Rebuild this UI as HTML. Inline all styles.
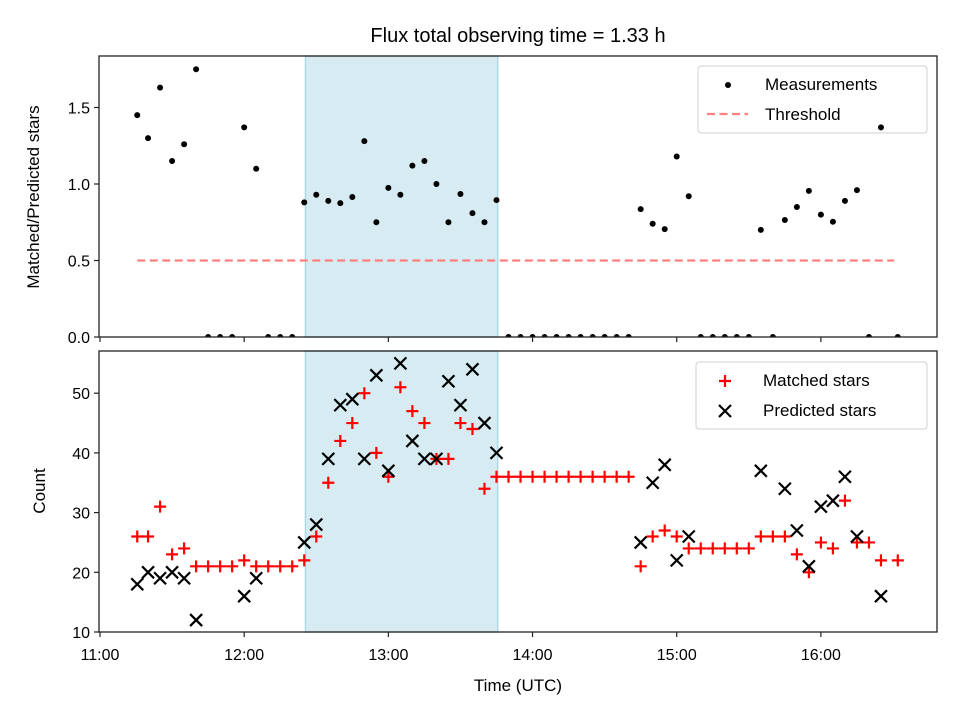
<!DOCTYPE html>
<html><head><meta charset="utf-8"><style>
html,body{margin:0;padding:0;background:#fff}
svg{display:block;font-family:"Liberation Sans","DejaVu Sans",sans-serif}
</style></head><body>
<svg id="chart" width="960" height="720" viewBox="0 0 960 720" xmlns="http://www.w3.org/2000/svg">
<defs>
<clipPath id="clipTop"><rect x="99" y="56" width="838" height="281"/></clipPath>
<clipPath id="clipBot"><rect x="99" y="351" width="838" height="281"/></clipPath>
</defs>
</svg>
<script>
const times = [15.5,20,25,30,35,40,45,50,55,60,65,70,75,80,85,90,95,100,105,110,115,120,125,130,135,140,145,150,155,160,165,170,175,180,185,190,195,200,205,210,215,220,225,230,235,240,245,250,255,260,265,270,275,280,285,290,295,300,305,310,315,320,325,332];
const ratio = [1.45,1.30,1.63,1.15,1.26,1.75,0,0,0,1.37,1.10,0,0,0,0.88,0.93,0.89,0.875,0.915,1.28,0.75,0.975,0.93,1.12,1.15,1.00,0.75,0.935,0.81,0.75,0.895,0,0,0,0,0,0,0,0,0,0,0,0.836,0.74,0.705,1.18,0.92,0,0,0,0,0,0.70,0,0.765,0.85,0.955,0.80,0.753,0.89,0.96,0,1.37,0];
const matched = [26,26,31,23,24,21,21,21,21,22,21,21,21,21,22,26,35,42,45,50,40,36,51,47,45,39,39,45,44,34,36,36,36,36,36,36,36,36,36,36,36,36,21,26,27,26,24,24,24,24,24,24,26,26,26,23,20,25,24,32,25,25,22,22];
const predicted = [18,20,19,20,19,12,null,null,null,16,19,null,null,null,25,28,39,48,49,39,53,37,55,42,39,39,52,48,54,45,40,null,null,null,null,null,null,null,null,null,null,null,25,35,38,22,26,null,null,null,null,null,37,null,34,27,21,31,32,36,26,null,16,null];
const threshold = 0.5;
const shadeSpan = [85.5, 165.5];
const xTickLabels = ["11:00","12:00","13:00","14:00","15:00","16:00"];
const xTickValues = [0,60,120,180,240,300];
const topTicks = [0.0,0.5,1.0,1.5];
const botTicks = [10,20,30,40,50];

const NS="http://www.w3.org/2000/svg";
const svg=document.getElementById('chart');
function mk(tag,attrs,parent){const e=document.createElementNS(NS,tag);for(const k in attrs)e.setAttribute(k,attrs[k]);(parent||svg).appendChild(e);return e;}
const L=99,R=937;
const xS=t=>100+t*2.403;
const T={top:56,bot:337};
const yT=v=>T.bot-v*153;
const B={top:351,bot:632};
const yB=v=>632-(v-10)*5.97;

let t=mk('text',{x:518,y:42,'font-size':'20','text-anchor':'middle',fill:'#000'});
t.textContent='Flux total observing time = 1.33 h';



function panel(P,yf,ticks,fmt,name){
  const g=mk('g',{});
  
  
  const sh=mk('rect',{x:xS(shadeSpan[0]),y:P.top,width:xS(shadeSpan[1])-xS(shadeSpan[0]),height:P.bot-P.top,fill:'#add8e6','fill-opacity':0.5,stroke:'#add8e6','stroke-width':1.5},g);
  
  
  ticks.forEach(v=>{
    const y=yf(v);
    mk('line',{x1:L-5,x2:L,y1:y,y2:y,stroke:'#222','stroke-width':1.2},g);
    const tx=mk('text',{x:L-9,y:y+6,'font-size':'16','text-anchor':'end',fill:'#000'},g);
    tx.textContent=fmt(v);
    
    
  });
  xTickValues.forEach(v=>{mk('line',{x1:xS(v),x2:xS(v),y1:P.bot,y2:P.bot+5,stroke:'#222','stroke-width':1.2},g);});
  return g;
}
const gTop=panel(T,yT,topTicks,v=>v.toFixed(1),'ratio-panel');
const gBot=panel(B,yB,botTicks,v=>String(v),'count-panel');

const lg1=mk('g',{});


mk('rect',{x:698,y:66,width:229,height:67,rx:3,fill:'#fff','fill-opacity':0.8,stroke:'#d0d0d0','stroke-width':1},lg1);
mk('circle',{cx:728,cy:85,r:3,fill:'#000'},lg1);
let e1=mk('text',{x:765,y:90,'font-size':'17',fill:'#000'},lg1);e1.textContent='Measurements';


mk('line',{x1:707,x2:748,y1:114,y2:114,stroke:'#ff7f7f','stroke-width':2.2,'stroke-dasharray':'8,4.5'},lg1);
let e2=mk('text',{x:765,y:120,'font-size':'17',fill:'#000'},lg1);e2.textContent='Threshold';



const lg2=mk('g',{});


mk('rect',{x:696,y:362,width:231,height:67,rx:3,fill:'#fff','fill-opacity':0.8,stroke:'#d0d0d0','stroke-width':1},lg2);
mk('path',{d:'M719,381H731M725,375V387',stroke:'#ff0000','stroke-width':2.2},lg2);
let e3=mk('text',{x:763,y:386,'font-size':'17',fill:'#000'},lg2);e3.textContent='Matched stars';


mk('path',{d:'M719,405L731,417M719,417L731,405',stroke:'#000','stroke-width':2.2},lg2);
let e4=mk('text',{x:763,y:416,'font-size':'17',fill:'#000'},lg2);e4.textContent='Predicted stars';



const dTop=mk('g',{'clip-path':'url(#clipTop)'});


const th=mk('line',{x1:xS(times[0]),x2:xS(330.5),y1:yT(threshold),y2:yT(threshold),stroke:'#ff7f7f','stroke-width':2.2,'stroke-dasharray':'8,4.5'},dTop);


times.forEach((tm,i)=>{
  const c=mk('circle',{cx:xS(tm),cy:yT(ratio[i]),r:3,fill:'#000'},dTop);
  
  
});
const fr1=mk('rect',{x:L,y:T.top,width:R-L,height:T.bot-T.top,fill:'none',stroke:'#222','stroke-width':1.3});



const dBot=mk('g',{'clip-path':'url(#clipBot)'});


times.forEach((tm,i)=>{
  const x=xS(tm),y=yB(matched[i]);
  const p=mk('path',{d:`M${x-6},${y}H${x+6}M${x},${y-6}V${y+6}`,stroke:'#ff0000','stroke-width':2.2},dBot);
  
  
});
times.forEach((tm,i)=>{
  if(predicted[i]==null)return;
  const x=xS(tm),y=yB(predicted[i]);
  const p=mk('path',{d:`M${x-6},${y-6}L${x+6},${y+6}M${x-6},${y+6}L${x+6},${y-6}`,stroke:'#000','stroke-width':2.2},dBot);
  
  
});
const fr2=mk('rect',{x:L,y:B.top,width:R-L,height:B.bot-B.top,fill:'none',stroke:'#222','stroke-width':1.3});



xTickValues.forEach((v,i)=>{
  const tx=mk('text',{x:xS(v),y:660,'font-size':'16','text-anchor':'middle',fill:'#000'});
  tx.textContent=xTickLabels[i];
  
  
});
let xl=mk('text',{x:518,y:691,'font-size':'17','text-anchor':'middle',fill:'#000'});
xl.textContent='Time (UTC)';


let yl1=mk('text',{x:0,y:0,'font-size':'17','text-anchor':'middle',fill:'#000',transform:'translate(39,197) rotate(-90)'});
yl1.textContent='Matched/Predicted stars';


let yl2=mk('text',{x:0,y:0,'font-size':'17','text-anchor':'middle',fill:'#000',transform:'translate(45,491) rotate(-90)'});
yl2.textContent='Count';


</script>
</body></html>
